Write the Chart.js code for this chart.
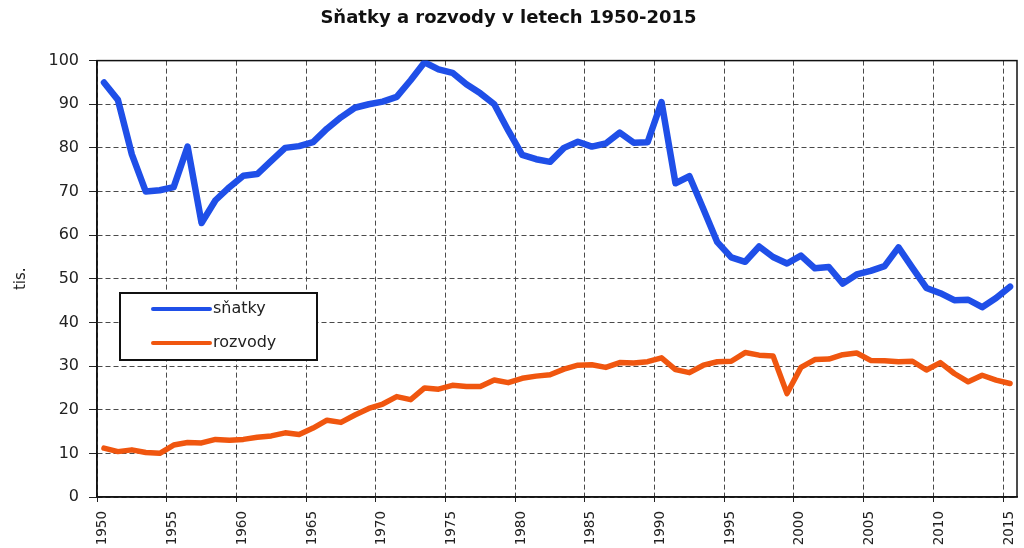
<!DOCTYPE html>
<html>
<head>
<meta charset="utf-8">
<title>Sňatky a rozvody v letech 1950-2015</title>
<script src="https://cdn.jsdelivr.net/npm/chart.js@4.4.0/dist/chart.umd.min.js"></script>
<style>
    html, body { margin: 0; padding: 0; background: #fff; }
</style>
</head>
<body>
<canvas id="chart" width="1024" height="548"></canvas>
<script>
// years on the category axis
const years = [
    1950, 1951, 1952, 1953, 1954, 1955, 1956, 1957, 1958, 1959,
    1960, 1961, 1962, 1963, 1964, 1965, 1966, 1967, 1968, 1969,
    1970, 1971, 1972, 1973, 1974, 1975, 1976, 1977, 1978, 1979,
    1980, 1981, 1982, 1983, 1984, 1985, 1986, 1987, 1988, 1989,
    1990, 1991, 1992, 1993, 1994, 1995, 1996, 1997, 1998, 1999,
    2000, 2001, 2002, 2003, 2004, 2005, 2006, 2007, 2008, 2009,
    2010, 2011, 2012, 2013, 2014, 2015
];

// marriages (thousands)
const snatky = [
    95.0, 91.0, 78.5, 70.0, 70.3, 71.0, 80.3, 62.8, 68.0, 71.0,
    73.6, 74.0, 77.0, 80.0, 80.4, 81.3, 84.4, 87.0, 89.2, 90.0,
    90.6, 91.7, 95.5, 99.6, 98.0, 97.2, 94.6, 92.5, 90.0, 84.0,
    78.4, 77.4, 76.8, 80.0, 81.4, 80.3, 81.0, 83.5, 81.2, 81.3,
    90.5, 71.9, 73.5, 66.0, 58.4, 54.9, 53.9, 57.4, 55.0, 53.5,
    55.3, 52.4, 52.7, 48.9, 51.0, 51.8, 52.9, 57.2, 52.5, 47.9,
    46.7, 45.1, 45.2, 43.5, 45.6, 48.2
];

// divorces (thousands)
const rozvody = [
    11.2, 10.4, 10.8, 10.2, 10.0, 11.9, 12.5, 12.4, 13.2, 13.0,
    13.2, 13.7, 14.0, 14.7, 14.3, 15.8, 17.6, 17.1, 18.8, 20.3,
    21.3, 23.0, 22.3, 25.0, 24.7, 25.6, 25.3, 25.3, 26.8, 26.2,
    27.2, 27.7, 28.0, 29.3, 30.2, 30.3, 29.7, 30.8, 30.7, 31.0,
    31.9, 29.2, 28.5, 30.2, 31.0, 31.1, 33.1, 32.5, 32.3, 23.7,
    29.7, 31.5, 31.6, 32.6, 33.0, 31.3, 31.2, 31.0, 31.1, 29.1,
    30.8, 28.3, 26.4, 27.9, 26.8, 26.0
];

// labelled years on the x axis
const yearLabels = [1950, 1955, 1960, 1965, 1970, 1975, 1980, 1985, 1990, 1995, 2000, 2005, 2010, 2015];
const yMin = 0, yMax = 100, yStep = 10;

const GRID = '#4a4a4a';
const TEXT = '#222';

// frame round the plot area (top and right sides too)
const frame = {
    id: 'frame',
    beforeDatasetsDraw(chart) {
        const { ctx, chartArea: a } = chart;
        ctx.save();
        ctx.strokeStyle = '#111';
        ctx.lineWidth = 1.5;
        ctx.strokeRect(a.left, a.top, a.right - a.left, a.bottom - a.top);
        ctx.restore();
    }
};

// legend drawn as a boxed panel inside the plot
const boxLegend = {
    id: 'boxLegend',
    afterDatasetsDraw(chart, args, opts) {
        const ctx = chart.ctx;
        ctx.save();
        ctx.fillStyle = '#fff';
        ctx.fillRect(opts.x, opts.y, opts.w, opts.h);
        ctx.strokeStyle = '#111';
        ctx.lineWidth = 2;
        ctx.strokeRect(opts.x, opts.y, opts.w, opts.h);
        chart.data.datasets.forEach((ds, i) => {
            const yy = opts.y + opts.first + i * opts.step;
            ctx.strokeStyle = ds.borderColor;
            ctx.lineWidth = 4;
            ctx.lineCap = 'round';
            ctx.beginPath();
            ctx.moveTo(opts.x + 33, yy);
            ctx.lineTo(opts.x + 90, yy);
            ctx.stroke();
            ctx.fillStyle = TEXT;
            ctx.font = '16px "DejaVu Sans"';
            ctx.textBaseline = 'middle';
            ctx.fillText(ds.label, opts.x + 93, yy);
        });
        ctx.restore();
    }
};

const onFive = c => (c.index !== undefined && years[c.index] !== undefined && yearLabels.includes(years[c.index]));

new Chart(document.getElementById('chart'), {
    type: 'line',
    data: {
        labels: years,
        datasets: [
            {
                label: 'sňatky',
                data: snatky,
                borderColor: '#1f4fe8',
                borderWidth: 6.5,
                pointRadius: 0,
                tension: 0,
                borderJoinStyle: 'round',
                borderCapStyle: 'round'
            },
            {
                label: 'rozvody',
                data: rozvody,
                borderColor: '#f0560f',
                borderWidth: 5.5,
                pointRadius: 0,
                tension: 0,
                borderJoinStyle: 'round',
                borderCapStyle: 'round'
            }
        ]
    },
    options: {
        responsive: false,
        animation: false,
        layout: { padding: { left: 0, right: 7, top: 0, bottom: 0 } },
        plugins: {
            legend: { display: false },
            tooltip: { enabled: false },
            title: {
                display: true,
                text: 'Sňatky a rozvody v letech 1950-2015',
                color: '#111',
                font: { family: '"DejaVu Sans"', size: 18, weight: 'bold' },
                padding: { top: 8, bottom: 31 }
            },
            boxLegend: { x: 120, y: 293, w: 197, h: 67, first: 16, step: 34 }
        },
        scales: {
            x: {
                type: 'category',
                offset: true,
                grid: {
                    offset: true,
                    color: c => onFive(c) ? GRID : 'rgba(0,0,0,0)',
                    tickColor: c => onFive(c) ? '#222' : 'rgba(0,0,0,0)',
                    tickLength: 5,
                    tickBorderDash: [],
                    lineWidth: 1
                },
                border: { display: true, color: '#222', width: 1.5, dash: [5, 3] },
                ticks: {
                    autoSkip: false,
                    maxRotation: 90,
                    minRotation: 90,
                    padding: 9,
                    labelOffset: -1,
                    color: TEXT,
                    font: { family: '"DejaVu Sans"', size: 13.5 },
                    callback: (v, i) => yearLabels.includes(years[i]) ? String(years[i]) : ''
                },
                afterFit: s => {
                    s.height = 51;
                    s.paddingLeft = 0;
                    s.paddingRight = 0;
                }
            },
            y: {
                min: yMin,
                max: yMax,
                grid: {
                    color: GRID,
                    tickColor: '#222',
                    tickLength: 8,
                    tickBorderDash: [],
                    lineWidth: 1
                },
                border: { display: true, color: '#222', width: 1.5, dash: [5, 3] },
                ticks: {
                    stepSize: yStep,
                    padding: 10,
                    color: TEXT,
                    font: { family: '"DejaVu Sans"', size: 16 }
                },
                title: {
                    display: true,
                    text: 'tis.',
                    color: TEXT,
                    font: { family: '"DejaVu Sans"', size: 15 },
                    padding: { top: 12, bottom: 0 }
                },
                afterFit: s => { s.width = 97; }
            }
        }
    },
    plugins: [frame, boxLegend]
});
</script>
</body>
</html>
